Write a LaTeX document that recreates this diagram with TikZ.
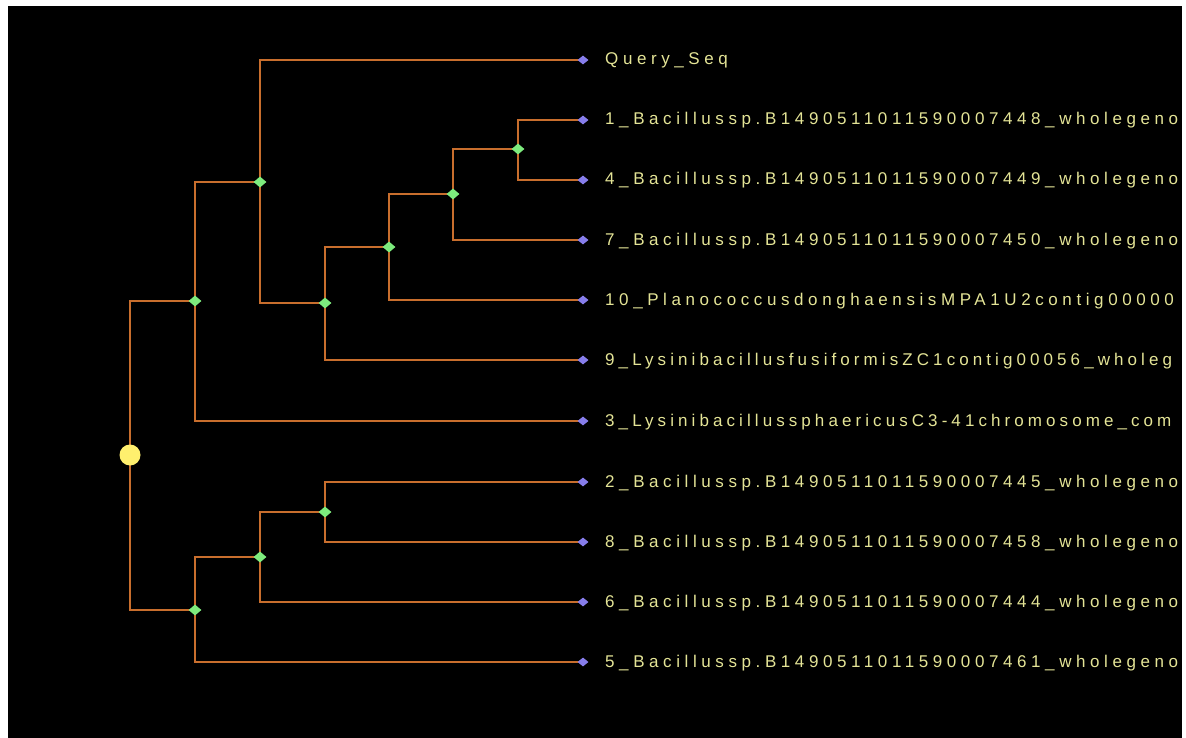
\documentclass[tikz,border=0pt]{standalone}
\usepackage{fontspec}
\setmainfont{Liberation Sans}
\newfontfamily\labfont[LetterSpace=27]{Liberation Sans}
\newfontfamily\labfontn[LetterSpace=24]{Liberation Sans}
\usetikzlibrary{shapes.geometric}
\definecolor{edgeor}{RGB}{200,110,45}
\definecolor{leafc}{RGB}{135,125,235}
\definecolor{innc}{RGB}{125,235,125}
\definecolor{rootc}{RGB}{255,240,110}
\definecolor{labc}{RGB}{228,228,150}
\pgfdeclarelayer{bg}
\pgfdeclarelayer{edges}
\pgfsetlayers{bg,edges,main}
\tikzset{
  edge/.style={draw=edgeor, line width=2.2pt},
  leafmark/.style={diamond, fill=leafc, inner sep=0pt, minimum width=11pt, minimum height=9pt},
  innmark/.style={diamond, fill=innc, inner sep=0pt, minimum width=13pt, minimum height=11pt},
  rootmark/.style={circle, fill=rootc, inner sep=0pt, minimum size=21pt},
  lab/.style={text=labc, font=\labfont\fontsize{17}{20}\selectfont, inner sep=0pt, anchor=base west},
  labn/.style={lab, font=\labfontn\fontsize{17}{20}\selectfont}
}
\begin{document}
\begin{tikzpicture}[x=1pt,y=-1pt]
\useasboundingbox (0,0) rectangle (1186,738);
\begin{pgfonlayer}{bg}
\fill[white] (0,0) rectangle (1186,738);
\fill[black] (8,6) rectangle (1182,738);
\end{pgfonlayer}
% internal nodes
\node[rootmark] (R) at (130,455) {};
\node[innmark] (A) at (195,301) {};
\node[innmark] (B) at (260,182) {};
\node[innmark] (C) at (325,303) {};
\node[innmark] (D) at (389,247) {};
\node[innmark] (E) at (453,194) {};
\node[innmark] (F) at (518,149) {};
\node[innmark] (G) at (195,610) {};
\node[innmark] (H) at (260,557) {};
\node[innmark] (I) at (325,512) {};
% leaves
\node[leafmark] (Q) at (583,60) {};
\node[leafmark] (L1) at (583,120) {};
\node[leafmark] (L4) at (583,180) {};
\node[leafmark] (L7) at (583,240) {};
\node[leafmark] (L10) at (583,300) {};
\node[leafmark] (L9) at (583,360) {};
\node[leafmark] (L3) at (583,421) {};
\node[leafmark] (L2) at (583,482) {};
\node[leafmark] (L8) at (583,542) {};
\node[leafmark] (L6) at (583,602) {};
\node[leafmark] (L5) at (583,662) {};
% edges
\begin{pgfonlayer}{edges}
\draw[edge] (R.center) |- (A.center);
\draw[edge] (R.center) |- (G.center);
\draw[edge] (A.center) |- (B.center);
\draw[edge] (A.center) |- (L3.center);
\draw[edge] (B.center) |- (Q.center);
\draw[edge] (B.center) |- (C.center);
\draw[edge] (C.center) |- (D.center);
\draw[edge] (C.center) |- (L9.center);
\draw[edge] (D.center) |- (E.center);
\draw[edge] (D.center) |- (L10.center);
\draw[edge] (E.center) |- (F.center);
\draw[edge] (E.center) |- (L7.center);
\draw[edge] (F.center) |- (L1.center);
\draw[edge] (F.center) |- (L4.center);
\draw[edge] (G.center) |- (H.center);
\draw[edge] (G.center) |- (L5.center);
\draw[edge] (H.center) |- (I.center);
\draw[edge] (H.center) |- (L6.center);
\draw[edge] (I.center) |- (L2.center);
\draw[edge] (I.center) |- (L8.center);
\end{pgfonlayer}
% labels
\begin{scope}
\clip (8,6) rectangle (1182,738);
\node[lab] (tQ) at (605,65) {Query\_Seq};
\node[lab] (t1) at (605,125) {1\_Bacillussp.B1490511011590007448\_wholegeno};
\node[lab] (t4) at (605,185) {4\_Bacillussp.B1490511011590007449\_wholegeno};
\node[lab] (t7) at (605,245) {7\_Bacillussp.B1490511011590007450\_wholegeno};
\node[lab] (t10) at (605,305) {10\_PlanococcusdonghaensisMPA1U2contig00000};
\node[labn] (t9) at (605,365) {9\_LysinibacillusfusiformisZC1contig00056\_wholeg};
\node[labn] (t3) at (605,426) {3\_LysinibacillussphaericusC3-41chromosome\_com};
\node[lab] (t2) at (605,487) {2\_Bacillussp.B1490511011590007445\_wholegeno};
\node[lab] (t8) at (605,547) {8\_Bacillussp.B1490511011590007458\_wholegeno};
\node[lab] (t6) at (605,607) {6\_Bacillussp.B1490511011590007444\_wholegeno};
\node[lab] (t5) at (605,667) {5\_Bacillussp.B1490511011590007461\_wholegeno};
\end{scope}
\end{tikzpicture}
\end{document}
